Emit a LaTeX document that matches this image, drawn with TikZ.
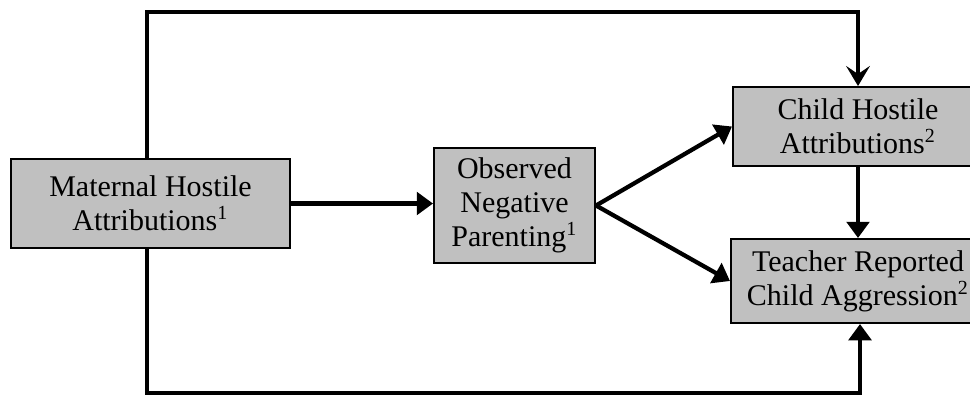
\documentclass[tikz,border=0pt]{standalone}
\usepackage{fontspec}
\setmainfont{Liberation Serif}
\usetikzlibrary{arrows.meta}

\begin{document}
\begin{tikzpicture}[x = 0.4pt, y = -0.4pt,
        box/.style = {draw, line width = 0.8pt, fill = boxgray, align = center,
                      font = \fontsize{12pt}{13.6pt}\selectfont, inner sep = 0pt},
        link/.style = {line width = 1.7pt, -{Triangle[length = 6.5pt, width = 9pt]}},
        vlink/.style = {line width = 1.7pt, -{Stealth[length = 8pt, width = 9.5pt, inset = 3.2pt]}}]

        \definecolor{boxgray}{HTML}{C0C0C0}
        \useasboundingbox (0, 0) rectangle (970, 395);

        % Positions for all of the points.
        \coordinate (TL) at (147, 12);
        \coordinate (TR) at (858, 12);
        \coordinate (BL) at (147, 393);
        \coordinate (BR) at (860, 393);

        % The four boxes.
        \node (mat) at (150.5, 203.5) [box, minimum width = 111.6pt, minimum height = 35.6pt]
            {Maternal Hostile\\Attributions\textsuperscript{1}};
        \node (obs) at (514.5, 205.5) [box, minimum width = 64.4pt, minimum height = 46pt]
            {Observed\\Negative\\Parenting\textsuperscript{1}};
        \node (chd) at (858, 126.5) [box, minimum width = 100pt, minimum height = 31.6pt]
            {Child Hostile\\Attributions\textsuperscript{2}};
        \node (tch) at (858, 281) [box, minimum width = 101.6pt, minimum height = 33.6pt]
            {Teacher Reported\\Child Aggression\textsuperscript{2}};

        % Direct paths.
        \draw [link] (mat.east) to (mat.east -| obs.west);
        \draw [link] (obs.east) to (chd.west);
        \draw [link] (obs.east) to (tch.west);
        \draw [link] (chd.south) to (tch.north);

        % Long paths round the outside.
        \draw [vlink] (TL |- mat.north) to (TL) to (TR) to (chd.north);
        \draw [link] (BL |- mat.south) to (BL) to (BR) to (BR |- tch.south);
    \end{tikzpicture}
\end{document}
